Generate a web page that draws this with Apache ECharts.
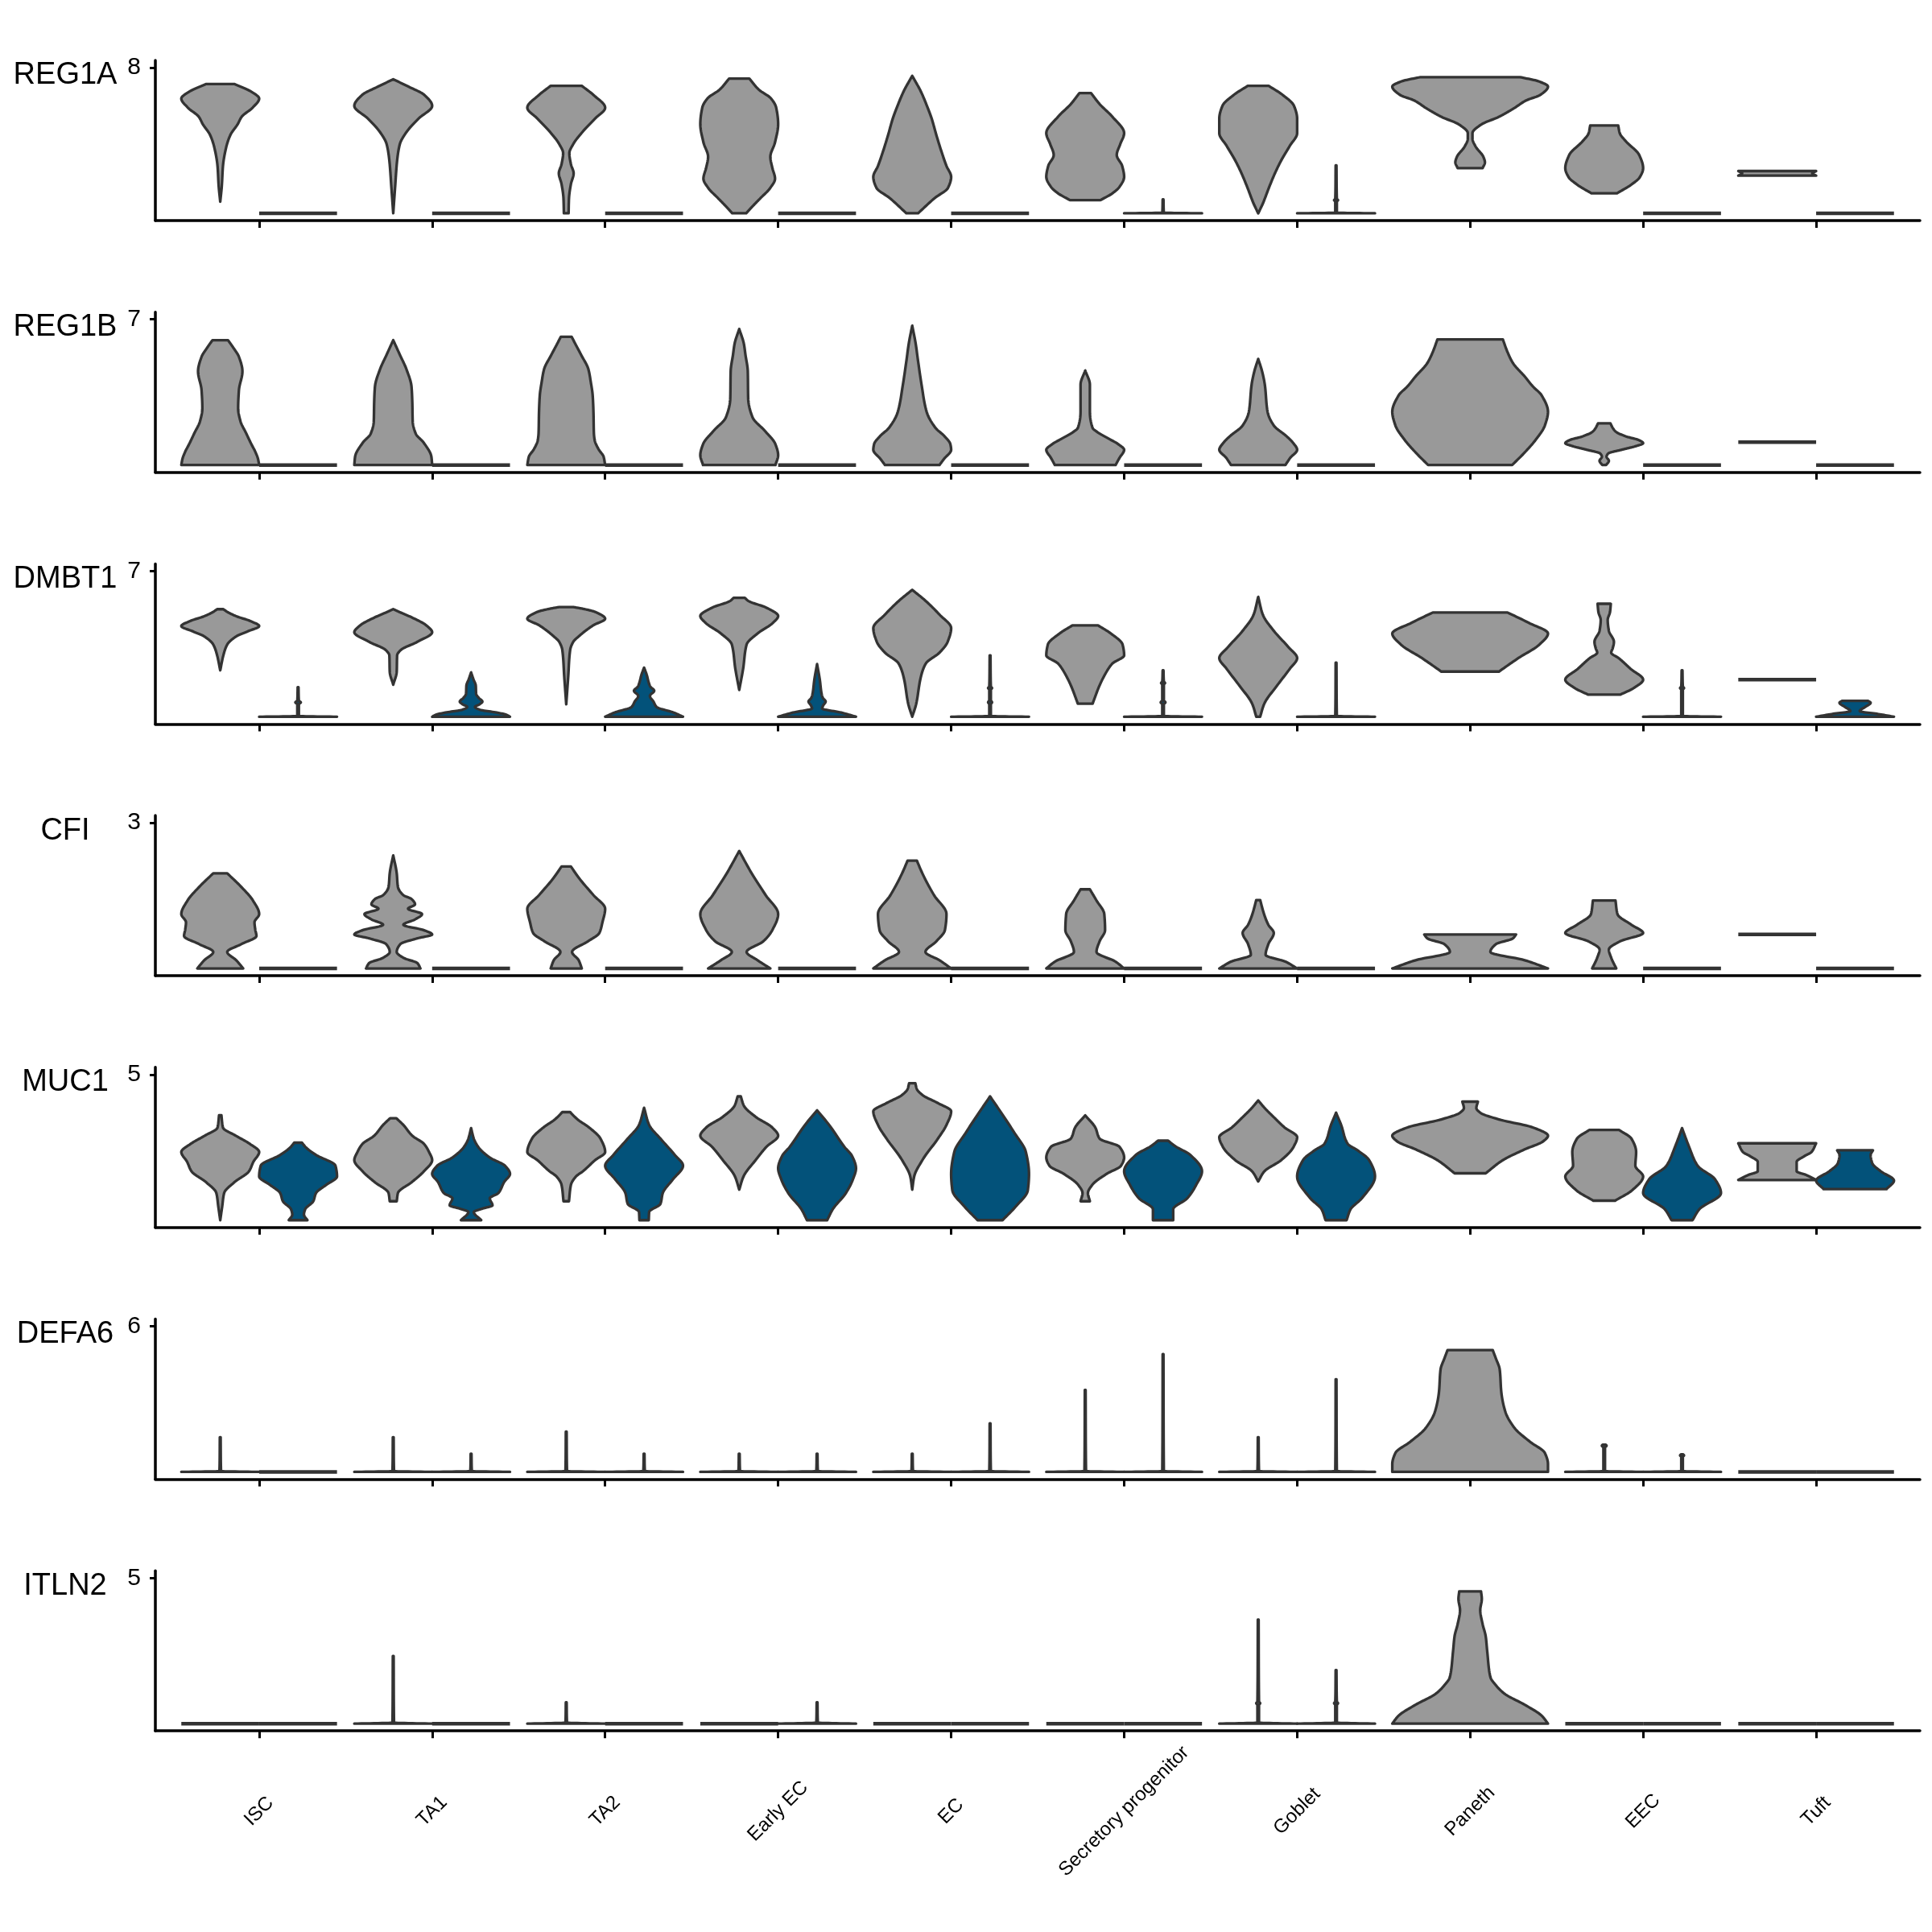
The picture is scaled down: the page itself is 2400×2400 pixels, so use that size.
<!DOCTYPE html>
<html>
<head>
<meta charset="utf-8">
<title>Stacked violin plot</title>
<script src="https://cdn.jsdelivr.net/npm/echarts@6/dist/echarts.min.js"></script>
<style>
  html, body { margin: 0; padding: 0; background: #fff; }
  #chart { width: 2400px; height: 2400px; }
</style>
</head>
<body>
<div id="chart"></div>
<script>
// categories and genes
var cellTypes = ['ISC', 'TA1', 'TA2', 'Early EC', 'EC', 'Secretory progenitor', 'Goblet', 'Paneth', 'EEC', 'Tuft'];
var genes = ['REG1A', 'REG1B', 'DMBT1', 'CFI', 'MUC1', 'DEFA6', 'ITLN2'];
var yTopTicks = [8, 7, 7, 3, 5, 6, 5];

// each violin: knots [expression, relative half width], low to high
// zeroLine = every cell at 0
var zeroLine = [[0, 1]];

var reg1aGray = [
  [[0.64,0],[1.5,0.04],[2.6,0.07],[3.6,0.15],[4.3,0.26],[4.9,0.45],[5.3,0.55],[5.8,0.83],[6.3,1],[6.7,0.78],[7.1,0.37]],
  [[0,0],[1.5,0.05],[2.9,0.1],[3.8,0.17],[4.4,0.32],[5.2,0.65],[5.9,1],[6.5,0.8],[6.95,0.4],[7.36,0]],
  [[0,0.06],[0.8,0.07],[1.6,0.12],[2.2,0.19],[2.7,0.12],[3.3,0.08],[3.8,0.18],[4.4,0.39],[5.2,0.74],[5.8,1],[6.5,0.7],[7.0,0.4]],
  [[0,0.18],[0.4,0.35],[0.84,0.55],[1.4,0.8],[1.9,0.92],[2.5,0.85],[3.1,0.8],[3.9,0.92],[4.9,1],[5.8,0.95],[6.3,0.82],[6.8,0.5],[7.4,0.26]],
  [[0,0.15],[0.84,0.58],[1.4,0.92],[2.0,1],[2.6,0.88],[3.4,0.75],[4.3,0.62],[5.2,0.5],[6.0,0.36],[6.7,0.22],[7.55,0]],
  [[0.72,0.39],[1.1,0.7],[1.45,0.88],[2.0,1],[2.6,0.95],[3.2,0.81],[3.8,0.9],[4.4,1],[5.3,0.7],[6.0,0.37],[6.6,0.15]],
  [[0,0],[0.54,0.12],[1.43,0.28],[2.2,0.43],[2.9,0.59],[3.7,0.81],[4.4,1],[5.2,1],[5.9,0.92],[6.5,0.63],[7.0,0.27]],
  [[2.48,0.16],[2.8,0.19],[3.1,0.17],[3.67,0.07],[4.1,0.03],[4.4,0.03],[4.87,0.14],[5.3,0.37],[5.76,0.56],[6.2,0.72],[6.5,0.9],[6.96,1],[7.25,0.88],[7.48,0.64]],
  [[1.1,0.33],[1.58,0.7],[2.0,0.92],[2.48,1],[3.2,0.9],[3.97,0.55],[4.4,0.4],[4.82,0.36]],
  [[2.07,1],[2.2,0.9],[2.32,1]]
];
var reg1aBlue = [
  zeroLine, zeroLine, zeroLine, zeroLine, zeroLine,
  [[0,1],[0.03,0.02],[0.76,0.01]],
  [[0,1],[0.03,0.02],[0.65,0.02],[0.72,0.05],[0.8,0.02],[2.63,0.01]],
  null, zeroLine, zeroLine
];

var reg1bGray = [
  [[0,1],[0.3,0.97],[0.64,0.9],[1.0,0.8],[1.55,0.66],[2.1,0.52],[2.72,0.46],[3.6,0.48],[4.5,0.57],[5.2,0.48],[5.6,0.35],[6.0,0.2]],
  [[0,1],[0.4,0.98],[1.08,0.78],[1.5,0.58],[2.1,0.5],[3.0,0.49],[3.76,0.47],[4.6,0.34],[5.26,0.18],[6.0,0]],
  [[0,1],[0.4,0.96],[0.76,0.83],[1.2,0.73],[1.55,0.71],[2.5,0.7],[3.33,0.68],[4.0,0.63],[4.6,0.57],[5.27,0.39],[5.8,0.24],[6.16,0.14]],
  [[0,0.93],[0.47,1],[1.0,0.93],[1.64,0.66],[2.3,0.34],[3.2,0.23],[4.5,0.22],[5.3,0.16],[5.82,0.12],[6.54,0]],
  [[0,0.7],[0.3,0.82],[0.73,1],[1.0,0.98],[1.4,0.82],[1.78,0.6],[2.56,0.37],[3.86,0.24],[5.0,0.15],[5.82,0.09],[6.7,0]],
  [[0,0.78],[0.34,0.88],[0.73,1],[1.0,0.85],[1.25,0.62],[1.6,0.3],[1.78,0.19],[2.56,0.12],[3.86,0.12],[4.54,0]],
  [[0,0.7],[0.34,0.82],[0.73,1],[1.1,0.88],[1.38,0.73],[1.9,0.4],[2.56,0.24],[3.86,0.17],[4.5,0.1],[5.1,0]],
  [[0,0.54],[0.6,0.7],[1.25,0.85],[1.9,0.96],[2.56,1],[3.34,0.92],[3.8,0.8],[4.26,0.7],[4.9,0.55],[5.43,0.48],[6.04,0.42]],
  [[0,0.05],[0.2,0.12],[0.4,0.06],[0.55,0.1],[0.73,0.44],[0.9,0.8],[1.05,1],[1.19,0.9],[1.38,0.55],[1.6,0.3],[1.78,0.22],[2.0,0.16]],
  [[1.1,1]]
];
var reg1bBlue = [zeroLine, zeroLine, zeroLine, zeroLine, zeroLine, zeroLine, zeroLine, null, zeroLine, zeroLine];

var dmbt1Gray = [
  [[2.23,0],[2.95,0.08],[3.47,0.18],[3.86,0.41],[4.1,0.7],[4.36,1],[4.58,0.8],[4.84,0.4],[5.04,0.18],[5.17,0.08]],
  [[1.54,0],[2.17,0.09],[2.95,0.1],[3.2,0.19],[3.6,0.62],[4.06,1],[4.39,0.85],[4.78,0.47],[5.0,0.2],[5.17,0]],
  [[0.6,0],[1.9,0.05],[3.2,0.1],[3.6,0.18],[3.86,0.32],[4.39,0.69],[4.71,1],[5.04,0.74],[5.2,0.4],[5.27,0.19]],
  [[1.29,0],[2.3,0.1],[3.47,0.19],[4.0,0.47],[4.52,0.87],[4.84,1],[5.24,0.7],[5.56,0.24],[5.72,0.14]],
  [[0,0],[0.6,0.1],[1.9,0.22],[2.56,0.35],[3.08,0.7],[3.6,0.91],[4.26,1],[4.91,0.7],[5.56,0.35],[6.1,0]],
  [[0.63,0.19],[1.51,0.37],[2.2,0.56],[2.56,0.7],[2.95,1],[3.47,0.96],[4.0,0.66],[4.39,0.33]],
  [[0,0.05],[0.6,0.15],[1.51,0.49],[2.3,0.81],[2.82,1],[3.34,0.78],[4.13,0.4],[4.9,0.12],[5.76,0]],
  [[2.17,0.37],[2.82,0.62],[3.47,0.89],[4.0,1],[4.52,0.75],[5.01,0.48]],
  [[1.06,0.41],[1.38,0.76],[1.78,1],[2.3,0.68],[2.82,0.37],[3.08,0.18],[3.3,0.22],[3.6,0.25],[4.13,0.12],[4.65,0.09],[5.04,0.15],[5.43,0.17]],
  [[1.78,1]]
];
var dmbt1Blue = [
  [[0,1],[0.03,0.02],[0.6,0.02],[0.69,0.07],[0.78,0.02],[1.42,0.01]],
  [[0,1],[0.1,0.9],[0.2,0.66],[0.34,0.22],[0.47,0.1],[0.6,0.22],[0.73,0.29],[0.9,0.2],[1.1,0.13],[1.5,0.12],[1.8,0.06],[2.13,0]],
  [[0,1],[0.2,0.76],[0.47,0.32],[0.73,0.24],[1.0,0.15],[1.25,0.26],[1.45,0.16],[1.64,0.12],[2.0,0.07],[2.36,0]],
  [[0,1],[0.2,0.62],[0.4,0.13],[0.55,0.16],[0.73,0.22],[0.9,0.15],[1.06,0.12],[1.78,0.07],[2.53,0]],
  [[0,1],[0.03,0.02],[0.6,0.02],[0.69,0.05],[0.8,0.02],[1.3,0.02],[1.38,0.05],[1.46,0.02],[2.95,0.01]],
  [[0,1],[0.03,0.02],[0.6,0.02],[0.69,0.06],[0.8,0.02],[1.55,0.02],[1.62,0.05],[1.7,0.02],[2.23,0.01]],
  [[0,1],[0.03,0.02],[2.6,0.01]],
  null,
  [[0,1],[0.03,0.02],[1.3,0.02],[1.38,0.05],[1.46,0.02],[2.23,0.01]],
  [[0,1],[0.14,0.56],[0.27,0.12],[0.47,0.26],[0.67,0.4],[0.76,0.34]]
];

var cfiGray = [
  [[0,0.59],[0.17,0.41],[0.34,0.18],[0.5,0.54],[0.67,0.93],[0.8,0.9],[0.95,0.88],[1.12,1],[1.4,0.84],[1.68,0.54],[1.96,0.18]],
  [[0,0.7],[0.11,0.62],[0.22,0.26],[0.34,0.09],[0.5,0.18],[0.62,0.62],[0.7,1],[0.79,0.78],[0.9,0.26],[1.01,0.56],[1.12,0.74],[1.23,0.38],[1.32,0.56],[1.43,0.47],[1.51,0.26],[1.68,0.12],[1.96,0.09],[2.33,0]],
  [[0,0.4],[0.17,0.32],[0.34,0.15],[0.56,0.56],[0.73,0.85],[0.95,0.93],[1.23,1],[1.51,0.7],[1.85,0.34],[2.1,0.12]],
  [[0,0.8],[0.17,0.47],[0.34,0.19],[0.56,0.62],[0.79,0.85],[1.12,1],[1.51,0.68],[1.96,0.32],[2.42,0]],
  [[0,1],[0.17,0.7],[0.34,0.34],[0.56,0.62],[0.79,0.84],[1.12,0.88],[1.51,0.56],[1.96,0.26],[2.22,0.12]],
  [[0,1],[0.14,0.78],[0.34,0.29],[0.56,0.37],[0.79,0.51],[1.12,0.49],[1.4,0.29],[1.63,0.12]],
  [[0,1],[0.14,0.7],[0.28,0.19],[0.5,0.26],[0.73,0.4],[0.9,0.26],[1.12,0.15],[1.41,0.05]],
  [[0,1],[0.17,0.7],[0.34,0.26],[0.5,0.33],[0.62,0.55],[0.7,0.59]],
  [[0,0.31],[0.22,0.18],[0.39,0.12],[0.56,0.41],[0.73,1],[0.9,0.7],[1.12,0.34],[1.4,0.29]],
  [[0.7,1]]
];
var cfiBlue = [zeroLine, zeroLine, zeroLine, zeroLine, zeroLine, zeroLine, zeroLine, null, zeroLine, zeroLine];

var muc1Gray = [
  [[0,0],[0.47,0.05],[0.93,0.1],[1.31,0.37],[1.68,0.74],[2.0,0.85],[2.34,1],[2.62,0.76],[2.9,0.4],[3.18,0.07],[3.6,0.03]],
  [[0.65,0.09],[0.93,0.12],[1.31,0.48],[1.68,0.79],[2.06,1],[2.34,0.92],[2.62,0.79],[2.9,0.49],[3.27,0.26],[3.5,0.08]],
  [[0.65,0.07],[1.21,0.12],[1.5,0.25],[1.68,0.43],[2.06,0.74],[2.34,1],[2.8,0.88],[3.18,0.59],[3.46,0.29],[3.71,0.1]],
  [[1.05,0],[1.5,0.11],[2.06,0.42],[2.52,0.7],[2.9,1],[3.18,0.85],[3.55,0.42],[3.93,0.12],[4.25,0.04]],
  [[1.05,0],[1.5,0.05],[2.06,0.26],[2.8,0.66],[3.27,0.88],[3.74,1],[4.02,0.66],[4.3,0.26],[4.5,0.12],[4.7,0.08]],
  [[0.65,0.12],[0.93,0.07],[1.21,0.18],[1.59,0.55],[1.87,0.92],[2.15,1],[2.52,0.88],[2.8,0.37],[3.18,0.26],[3.6,0]],
  [[1.33,0],[1.68,0.16],[2.06,0.59],[2.52,0.91],[2.85,1],[3.18,0.68],[3.55,0.39],[3.83,0.18],[4.11,0]],
  [[1.61,0.2],[2.06,0.42],[2.43,0.7],[2.71,0.94],[2.9,1],[3.18,0.81],[3.46,0.37],[3.69,0.13],[3.85,0.08],[4.07,0.1]],
  [[0.67,0.28],[1.03,0.72],[1.5,1],[1.87,0.8],[2.34,0.82],[2.8,0.7],[3.1,0.38]],
  [[1.38,1],[1.55,0.75],[1.68,0.5],[2.0,0.5],[2.2,0.7],[2.34,0.88],[2.64,1]]
];
var muc1Blue = [
  [[0,0.24],[0.19,0.15],[0.37,0.18],[0.65,0.39],[0.93,0.46],[1.21,0.72],[1.5,1],[1.87,0.96],[2.24,0.46],[2.5,0.2],[2.66,0.1]],
  [[0,0.26],[0.28,0.07],[0.4,0.3],[0.51,0.55],[0.75,0.48],[0.93,0.7],[1.31,0.85],[1.59,1],[1.87,0.87],[2.15,0.48],[2.52,0.18],[2.8,0.07],[3.16,0]],
  [[0,0.12],[0.28,0.13],[0.56,0.42],[0.93,0.48],[1.4,0.74],[1.87,1],[2.24,0.79],[2.8,0.42],[3.27,0.13],[3.86,0]],
  [[0,0.26],[0.37,0.4],[0.93,0.74],[1.4,0.92],[1.78,1],[2.2,0.9],[2.52,0.7],[3.27,0.31],[3.77,0]],
  [[0,0.32],[0.47,0.66],[1.03,0.97],[1.59,1],[2.34,0.92],[2.99,0.63],[3.74,0.26],[4.25,0]],
  [[0,0.26],[0.37,0.26],[0.75,0.62],[1.21,0.85],[1.68,1],[2.24,0.7],[2.55,0.3],[2.73,0.13]],
  [[0,0.27],[0.37,0.37],[0.75,0.66],[1.5,1],[2.06,0.85],[2.4,0.55],[2.62,0.3],[3.27,0.13],[3.69,0]],
  null,
  [[0,0.27],[0.37,0.44],[0.93,1],[1.4,0.85],[1.87,0.4],[2.52,0.18],[3.16,0]],
  [[1.07,0.81],[1.36,1],[1.68,0.66],[1.96,0.44],[2.24,0.4],[2.4,0.46]]
];

var defa6Gray = [
  [[0,1],[0.03,0.02],[1.43,0.01]],
  [[0,1],[0.03,0.02],[1.43,0.01]],
  [[0,1],[0.03,0.02],[1.66,0.01]],
  [[0,1],[0.03,0.02],[0.75,0.01]],
  [[0,1],[0.03,0.02],[0.75,0.01]],
  [[0,1],[0.03,0.02],[3.38,0.01]],
  [[0,1],[0.03,0.02],[1.43,0.01]],
  [[0,1],[0.32,1],[0.78,0.96],[1.24,0.77],[1.81,0.57],[2.5,0.45],[3.3,0.4],[4.22,0.38],[4.68,0.33],[5.02,0.29]],
  [[0,1],[0.03,0.02],[1.0,0.02],[1.08,0.06],[1.12,0.04]],
  zeroLine
];
var defa6Blue = [
  zeroLine,
  [[0,1],[0.03,0.02],[0.75,0.01]],
  [[0,1],[0.03,0.02],[0.75,0.01]],
  [[0,1],[0.03,0.02],[0.75,0.01]],
  [[0,1],[0.03,0.02],[2.0,0.01]],
  [[0,1],[0.03,0.02],[4.85,0.01]],
  [[0,1],[0.03,0.02],[3.82,0.01]],
  null,
  [[0,1],[0.03,0.02],[0.62,0.02],[0.68,0.05],[0.72,0.03]],
  zeroLine
];

var itln2Gray = [
  zeroLine,
  [[0,1],[0.03,0.02],[2.32,0.01]],
  [[0,1],[0.03,0.02],[0.73,0.01]],
  zeroLine, zeroLine, zeroLine,
  [[0,1],[0.03,0.02],[0.64,0.02],[0.7,0.05],[0.76,0.02],[3.57,0.01]],
  [[0,1],[0.27,0.92],[0.65,0.7],[1.03,0.44],[1.32,0.33],[1.6,0.26],[2.47,0.22],[3.0,0.2],[3.42,0.16],[3.9,0.13],[4.28,0.15],[4.54,0.14]],
  zeroLine, zeroLine
];
var itln2Blue = [
  zeroLine, zeroLine, zeroLine,
  [[0,1],[0.03,0.02],[0.73,0.01]],
  zeroLine, zeroLine,
  [[0,1],[0.03,0.02],[0.64,0.02],[0.7,0.05],[0.76,0.02],[1.84,0.01]],
  null, zeroLine, zeroLine
];

var grayByGene = [reg1aGray, reg1bGray, dmbt1Gray, cfiGray, muc1Gray, defa6Gray, itln2Gray];
var blueByGene = [reg1aBlue, reg1bBlue, dmbt1Blue, cfiBlue, muc1Blue, defa6Blue, itln2Blue];

// layout (px)
var gridLeft = 193, gridWidth = 2192, gridTop0 = 75, gridStep = 312.7, gridHeight = 199;
var grayFill = '#999999', blueFill = '#03527a', edge = '#333333';

// smooth a knot list along expression with a monotone cubic (drawing only)
function smoothSide(knots, steps) {
  var n = knots.length, out = [];
  if (n < 2) return knots.slice();
  var d = [], h = [], m = [];
  for (var i = 0; i < n - 1; i++) {
    h[i] = knots[i + 1][0] - knots[i][0];
    d[i] = (knots[i + 1][1] - knots[i][1]) / h[i];
  }
  m[0] = d[0];
  m[n - 1] = d[n - 2];
  for (var i = 1; i < n - 1; i++) {
    if (d[i - 1] * d[i] <= 0) { m[i] = 0; continue; }
    var w1 = 2 * h[i] + h[i - 1], w2 = h[i] + 2 * h[i - 1];
    m[i] = (w1 + w2) / (w1 / d[i - 1] + w2 / d[i]);
  }
  for (var i = 0; i < n - 1; i++) {
    for (var s = 0; s < steps; s++) {
      var t = s / steps, t2 = t * t, t3 = t2 * t;
      var w = (2 * t3 - 3 * t2 + 1) * knots[i][1] + (t3 - 2 * t2 + t) * h[i] * m[i]
            + (-2 * t3 + 3 * t2) * knots[i + 1][1] + (t3 - t2) * h[i] * m[i + 1];
      out.push([knots[i][0] + t * h[i], Math.max(0, w)]);
    }
  }
  out.push(knots[n - 1]);
  return out;
}

// one custom series per gene; value = [x centre, half width in x units, shape index]
var shapeStore = [];
function makeSeries(g) {
  var items = [];
  for (var c = 0; c < cellTypes.length; c++) {
    var blue = blueByGene[g][c];
    if (blue === null) {
      shapeStore.push({ knots: grayByGene[g][c], fill: grayFill });
      items.push([c + 1, 0.45, shapeStore.length - 1]);
    } else {
      shapeStore.push({ knots: grayByGene[g][c], fill: grayFill });
      items.push([c + 1 - 0.225, 0.225, shapeStore.length - 1]);
      shapeStore.push({ knots: blue, fill: blueFill });
      items.push([c + 1 + 0.225, 0.225, shapeStore.length - 1]);
    }
  }
  return {
    type: 'custom',
    xAxisIndex: g,
    yAxisIndex: g,
    silent: true,
    encode: { x: 0, y: 1 },
    data: items,
    renderItem: renderViolin
  };
}

function renderViolin(params, api) {
  var sh = shapeStore[api.value(2)];
  var xc = api.value(0), half = api.value(1);
  var cx = api.coord([xc, 0])[0];
  var hw = api.coord([xc + half, 0])[0] - cx;
  if (sh.knots.length === 1) {
    var k = sh.knots[0];
    var py0 = api.coord([xc, k[0]])[1];
    return {
      type: 'polyline',
      shape: { points: [[cx - k[1] * hw, py0], [cx + k[1] * hw, py0]] },
      style: { stroke: edge, lineWidth: 4.5, fill: null }
    };
  }
  var side = smoothSide(sh.knots, 12);
  var right = [], left = [];
  for (var i = 0; i < side.length; i++) {
    var py = api.coord([xc, side[i][0]])[1];
    right.push([cx + side[i][1] * hw, py]);
    left.push([cx - side[i][1] * hw, py]);
  }
  return {
    type: 'polygon',
    shape: { points: right.concat(left.reverse()) },
    style: { fill: sh.fill, stroke: edge, lineWidth: 3.3, lineJoin: 'round' }
  };
}

function catLabel(v) { return cellTypes[Math.round(v) - 1] || ''; }

var grids = [], xAxes = [], yAxes = [], series = [], labels = [];
var tickValues = [1, 2, 3, 4, 5, 6, 7, 8, 9, 10];
for (var g = 0; g < genes.length; g++) {
  var gTop = gridTop0 + gridStep * g;
  var T = yTopTicks[g];
  var last = g === genes.length - 1;
  grids.push({ left: gridLeft, top: gTop, width: gridWidth, height: gridHeight });
  xAxes.push({
    type: 'value', gridIndex: g, min: 0.4, max: 10.6, position: 'bottom',
    axisLine: { show: true, onZero: false, lineStyle: { color: '#000', width: 3.5 } },
    axisTick: { show: true, customValues: tickValues, length: 9, lineStyle: { color: '#000', width: 3 } },
    axisLabel: {
      show: last, customValues: tickValues, formatter: catLabel,
      rotate: 45, align: 'center', verticalAlign: 'middle', margin: 100,
      fontSize: 24, color: '#000', fontFamily: 'Liberation Sans'
    },
    splitLine: { show: false }
  });
  yAxes.push({
    type: 'value', gridIndex: g, min: -0.05 * T, max: 1.05 * T,
    axisLine: { show: true, onZero: false, lineStyle: { color: '#000', width: 3.5 } },
    axisTick: { show: true, customValues: [T], length: 7, lineStyle: { color: '#000', width: 3 } },
    axisLabel: { customValues: [T], margin: 18, fontSize: 30, color: '#000', fontFamily: 'Liberation Sans' },
    splitLine: { show: false }
  });
  series.push(makeSeries(g));
  labels.push({
    type: 'text', x: 81, y: gTop + 19,
    style: {
      text: genes[g], align: 'center', verticalAlign: 'middle',
      fontSize: 38, fill: '#000', fontFamily: 'Liberation Sans'
    }
  });
}

var chart = echarts.init(document.getElementById('chart'), null, { renderer: 'canvas' });
chart.setOption({
  backgroundColor: '#fff',
  animation: false,
  grid: grids,
  xAxis: xAxes,
  yAxis: yAxes,
  series: series,
  graphic: { elements: labels }
});
</script>
</body>
</html>
